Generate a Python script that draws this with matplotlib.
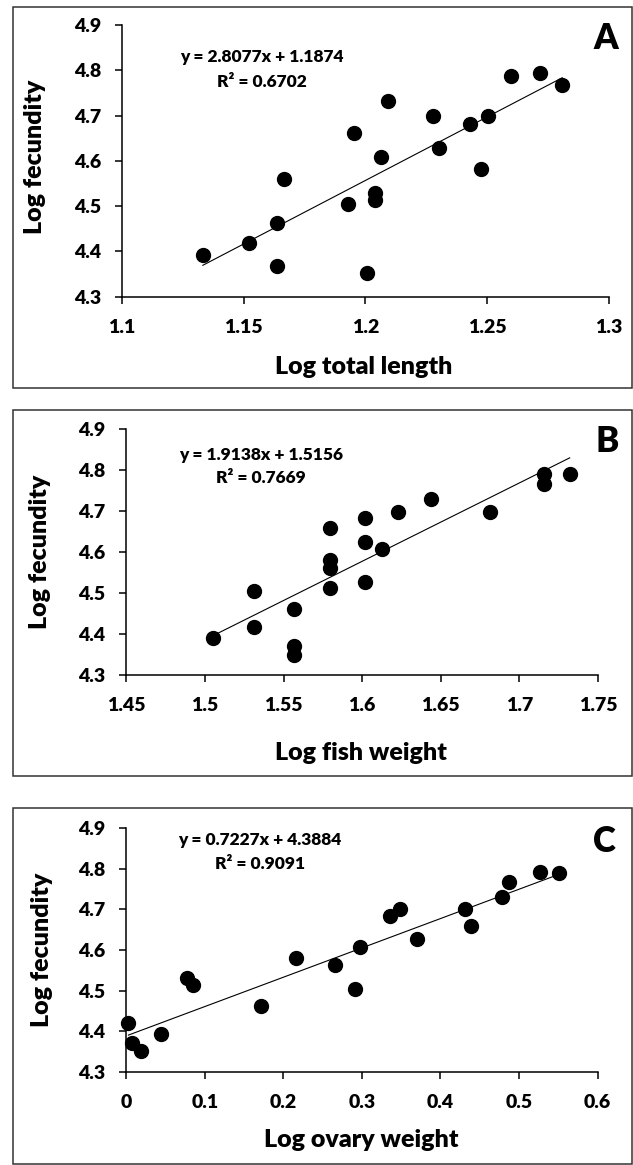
import matplotlib
matplotlib.use('Agg')
import matplotlib.pyplot as plt
from matplotlib.patches import Rectangle
import numpy as np

plt.rcParams['font.family'] = ['Lato', 'DejaVu Sans']
plt.rcParams['font.weight'] = 'bold'

# ---------------- data ----------------
# panel A: log total length vs log fecundity
len_x = [1.1333, 1.1522, 1.1638, 1.1638, 1.1668, 1.1929, 1.1954, 1.2008, 1.2038, 1.2038,
         1.2063, 1.2095, 1.2279, 1.2302, 1.2428, 1.2476, 1.2502, 1.2599, 1.2715, 1.2808]
len_y = [4.392, 4.418, 4.462, 4.368, 4.561, 4.505, 4.661, 4.352, 4.530, 4.513,
         4.609, 4.732, 4.699, 4.629, 4.681, 4.581, 4.699, 4.788, 4.793, 4.767]

# panel B: log fish weight vs log fecundity
wt_x = [1.5049, 1.5313, 1.5313, 1.5564, 1.5564, 1.5564, 1.5795, 1.5795, 1.5795, 1.5795,
        1.6020, 1.6020, 1.6020, 1.6123, 1.6230, 1.6436, 1.6810, 1.7159, 1.7159, 1.7320]
wt_y = [4.390, 4.505, 4.416, 4.461, 4.372, 4.349, 4.658, 4.581, 4.561, 4.513,
        4.683, 4.626, 4.528, 4.607, 4.699, 4.730, 4.699, 4.790, 4.767, 4.791]

# panel C: log ovary weight vs log fecundity
ov_x = [0.0026, 0.0067, 0.0190, 0.0437, 0.0771, 0.0843, 0.1717, 0.2159, 0.2658, 0.2915,
        0.2977, 0.3362, 0.3480, 0.3702, 0.4314, 0.4391, 0.4782, 0.4869, 0.5265, 0.5512]
ov_y = [4.419, 4.370, 4.351, 4.392, 4.532, 4.514, 4.463, 4.581, 4.563, 4.505,
        4.608, 4.684, 4.700, 4.626, 4.700, 4.659, 4.730, 4.768, 4.793, 4.789]

slopes = [2.8077, 1.9138, 0.7227]
intercepts = [1.1874, 1.5156, 4.3884]
r2 = ['0.6702', '0.7669', '0.9091']
letters = ['A', 'B', 'C']
xlabels = ['Log total length', 'Log fish weight', 'Log ovary weight']

y_ticks = [4.3, 4.4, 4.5, 4.6, 4.7, 4.8, 4.9]
y_ticklabels = ['4.3', '4.4', '4.5', '4.6', '4.7', '4.8', '4.9']
x_ticks = [[1.1, 1.15, 1.2, 1.25, 1.3],
           [1.45, 1.5, 1.55, 1.6, 1.65, 1.7, 1.75],
           [0, 0.1, 0.2, 0.3, 0.4, 0.5, 0.6]]
x_ticklabels = [['1.1', '1.15', '1.2', '1.25', '1.3'],
                ['1.45', '1.5', '1.55', '1.6', '1.65', '1.7', '1.75'],
                ['0', '0.1', '0.2', '0.3', '0.4', '0.5', '0.6']]

# ---------------- layout ----------------
W, H = 633, 1165
fig = plt.figure(figsize=(W / 100, H / 100), dpi=100)

# axes boxes in pixels: left, top, right, bottom
ax_px = [(121.7, 25, 609, 296.7), (126.4, 429.3, 598, 675), (126.4, 828.3, 597.5, 1071.7)]
# panel frames in pixels
frame_px = [(12.7, 6.7, 631.5, 387.7), (12.7, 410, 631.5, 776), (12.7, 807.7, 631.5, 1163.5)]
xlab_pos = [(0.497, -0.259), (0.497, -0.317), (0.498, -0.281)]
ylab_pos = [(-0.177, 0.514), (-0.183, 0.502), (-0.179, 0.50)]
eq_pos = [(0.288, 0.883, 0.790), (0.286, 0.895, 0.802), (0.284, 0.952, 0.852)]
let_pos = [(0.993, 0.951), (1.020, 0.95), (1.014, 0.945)]

datasets = [(len_x, len_y), (wt_x, wt_y), (ov_x, ov_y)]

for i, (xs, ys) in enumerate(datasets):
    l, t, r, b = ax_px[i]
    ax = fig.add_axes([l / W, 1 - b / H, (r - l) / W, (b - t) / H])

    fl, ft, fr, fb = frame_px[i]
    fig.patches.append(Rectangle((fl / W, 1 - fb / H), (fr - fl) / W, (fb - ft) / H,
                                 transform=fig.transFigure, fill=False,
                                 edgecolor='#333333', linewidth=1.1))

    ax.scatter(xs, ys, s=100, color='black', zorder=3, clip_on=False)
    lx = np.array([min(xs), max(xs)])
    ax.plot(lx, slopes[i] * lx + intercepts[i], color='black', lw=0.8, zorder=2)

    xt = x_ticks[i]
    ax.set_xlim(xt[0], xt[-1])
    ax.set_ylim(4.3, 4.9)
    ax.set_xticks(xt)
    ax.set_xticklabels(x_ticklabels[i])
    ax.set_yticks(y_ticks)
    ax.set_yticklabels(y_ticklabels)

    for side in ['top', 'right']:
        ax.spines[side].set_visible(False)
    for side in ['left', 'bottom']:
        ax.spines[side].set_linewidth(1.1)
    ax.tick_params(direction='out', length=5, width=1.1, labelsize=14)
    ax.tick_params(axis='x', pad=11)
    ax.tick_params(axis='y', pad=10)
    for lab in ax.get_xticklabels() + ax.get_yticklabels():
        lab.set_fontweight('heavy')

    ax.set_xlabel(xlabels[i], fontsize=18, fontweight='heavy')
    ax.xaxis.set_label_coords(*xlab_pos[i])
    ax.xaxis.label.set_va('center')
    ax.set_ylabel('Log fecundity', fontsize=18, fontweight='heavy')
    ax.yaxis.set_label_coords(*ylab_pos[i])
    ax.yaxis.label.set_va('center')

    ex, ey1, ey2 = eq_pos[i]
    ax.text(ex, ey1, f'y = {slopes[i]:.4f}x + {intercepts[i]:.4f}', transform=ax.transAxes,
            ha='center', va='center', fontsize=12.5, fontweight='heavy')
    ax.text(ex, ey2, f'R\u00b2 = {r2[i]}', transform=ax.transAxes,
            ha='center', va='center', fontsize=12.5, fontweight='heavy')
    ax.text(*let_pos[i], letters[i], transform=ax.transAxes, ha='center', va='center',
            fontsize=25, fontweight='heavy', clip_on=False)

fig.savefig('out.png', dpi=100)
plt.close(fig)
